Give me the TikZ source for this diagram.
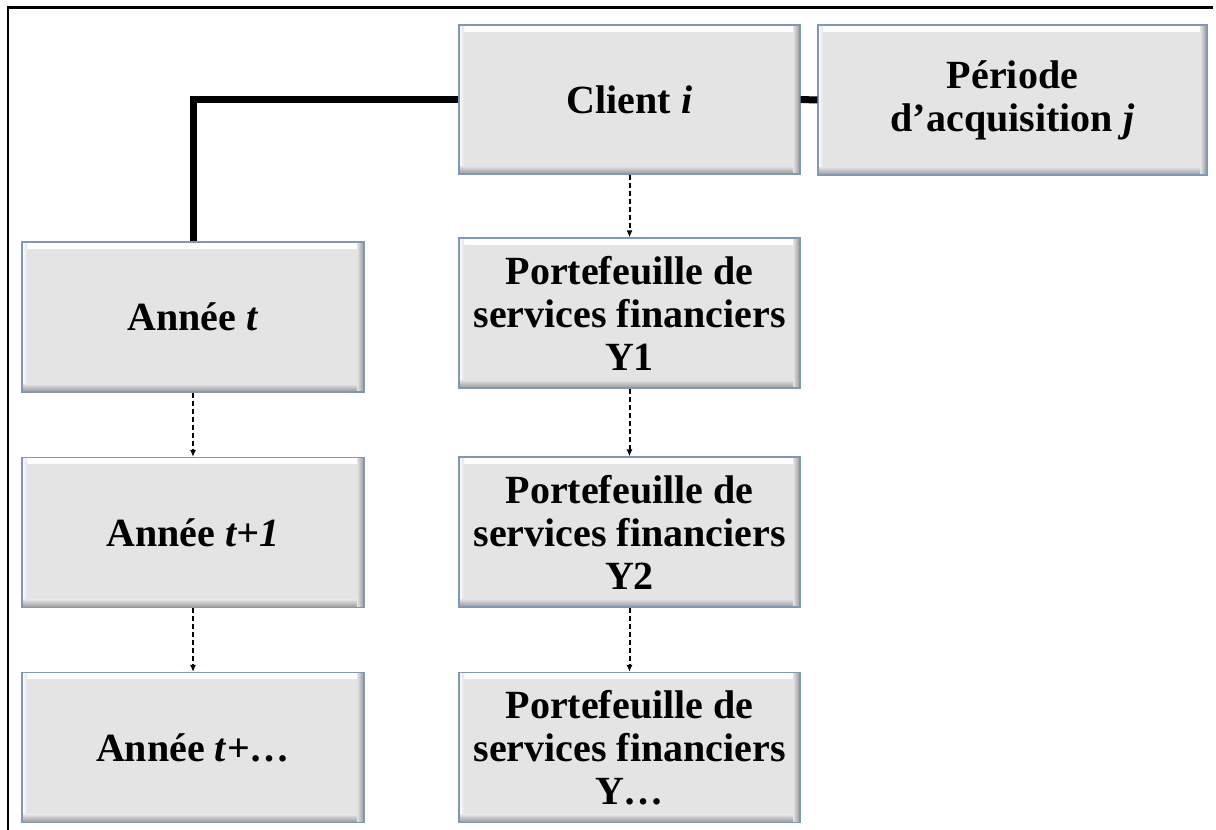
\documentclass[tikz,border=0pt]{standalone}
\usepackage{fontspec}
\setmainfont{Liberation Serif}
\usetikzlibrary{arrows.meta}
\definecolor{boxgray}{HTML}{E4E4E4}
\definecolor{boxdark}{HTML}{959595}
\definecolor{boxborder}{HTML}{7F98B4}
\tikzset{
  bevelbox/.style={draw=boxborder, line width=1.2pt, fill=boxgray, inner sep=0pt,
    align=center, font=\bfseries\fontsize{40}{43}\selectfont,
    path picture={
      \shade[top color=white, bottom color=boxgray]
        (path picture bounding box.north west) rectangle ([yshift=-6pt]path picture bounding box.north east);
      \shade[left color=white, right color=boxgray]
        (path picture bounding box.north west) rectangle ([xshift=5pt]path picture bounding box.south west);
      \shade[top color=boxgray, bottom color=boxdark]
        ([yshift=8pt]path picture bounding box.south west) rectangle (path picture bounding box.south east);
      \shade[left color=boxgray, right color=boxdark]
        ([xshift=-7pt]path picture bounding box.north east) rectangle (path picture bounding box.south east);
    }},
  wbox/.style={bevelbox, minimum width=341pt, minimum height=150pt},
  thickline/.style={line width=7pt, line join=miter},
  dasharrow/.style={line width=2pt, dash pattern=on 5pt off 3pt, -{Latex[length=7pt,width=6pt]}},
  framecol/.style={line width=2.2pt}
}
\begin{document}
\begin{tikzpicture}[x=1pt, y=-1pt]
\useasboundingbox (0,0) rectangle (1216,830);
\fill[white] (0,0) rectangle (1216,830);
% frame (cropped: top and left only)
\coordinate (fTL) at (8,7.5);
\coordinate (fTR) at (1213,7.5);
\coordinate (fBL) at (8,830);
\draw[framecol] (fTR) -- (fTL) -- (fBL);
% boxes
\node[wbox, minimum width=341pt, minimum height=149pt] (client) at (629.5,99.5) {Client \textit{i}};
\node[wbox, minimum width=389pt, minimum height=150pt] (periode) at (1012.5,100) {Période\\d’acquisition \textit{j}};
\node[wbox, minimum width=342pt] (a1) at (193,317) {Année \textit{t}};
\node[wbox, minimum width=342pt] (a2) at (193,532.5) {Année \textit{t+1}};
\node[wbox, minimum width=342pt] (a3) at (193,747.5) {Année \textit{t}+…};
\node[wbox] (y1) at (629.5,313) {Portefeuille de\\services financiers\\Y1};
\node[wbox] (y2) at (629.5,532) {Portefeuille de\\services financiers\\Y2};
\node[wbox] (y3) at (629.5,747.5) {Portefeuille de\\services financiers\\Y…};
% connectors
\draw[thickline] (a1.north) |- (client.west);
\draw[thickline] (client.east) -- (periode.west);
\draw[dasharrow] (client.south) -- (y1.north);
\draw[dasharrow] (y1.south) -- (y2.north);
\draw[dasharrow] (y2.south) -- (y3.north);
\draw[dasharrow] (a1.south) -- (a2.north);
\draw[dasharrow] (a2.south) -- (a3.north);
\end{tikzpicture}
\end{document}
